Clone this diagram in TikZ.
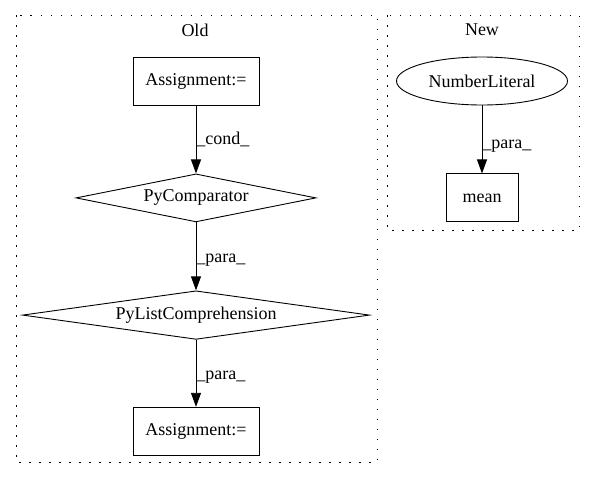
\documentclass[tikz,border=0pt]{standalone}
\usepackage{fontspec}
\setmainfont{Liberation Serif}
\usepackage{tikz}
\usetikzlibrary{positioning}
\usetikzlibrary{shapes.geometric}
\usetikzlibrary{arrows.meta}

\begin{document}
\begin{tikzpicture}[x=1pt, y=-1pt, node distance=68pt,
    font=\fontsize{18}{21}\selectfont, line width=0.9pt,
    every text node part/.style={align=center},
    box/.style={draw, rectangle, minimum width=126pt, minimum height=48pt, inner sep=0pt},
    cmp/.style={draw, diamond, minimum height=48pt, inner sep=0pt, shape aspect=5},
    lit/.style={draw, ellipse, minimum width=171pt, minimum height=48pt, inner sep=0pt},
    edge/.style={-{Triangle[length=14pt, width=10pt]}},
    lbl/.style={right, inner sep=0pt},
    cluster/.style={dash pattern=on 1.5pt off 8.5pt}]
    \useasboundingbox (0,0) rectangle (595,480);

    % old
    \node[box] (assign1) at (196,81) {Assignment:=};
    \node[cmp, minimum width=240pt, below=of assign1] (comparator) {PyComparator};
    \node[cmp, minimum width=347pt, below=of comparator] (listcomp) {PyListComprehension};
    \node[box, below=67pt of listcomp] (assign2) {Assignment:=};

    \draw[edge] (assign1) -- node[lbl] {\_cond\_} (comparator);
    \draw[edge] (comparator) -- node[lbl, pos=0.55] {\_para\_} (listcomp);
    \draw[edge] (listcomp) -- node[lbl, pos=0.55] {\_para\_} (assign2);

    % new
    \node[lit] (number) at (482,81) {NumberLiteral};
    \node[box, minimum width=72pt, below=of number] (mean) {mean};

    \draw[edge] (number) -- node[lbl, pos=0.6] {\_para\_} (mean);

    \draw[cluster] (16,15) rectangle (377,462);
    \node (old label) at (195,30) {Old};

    \draw[cluster] (387,15) rectangle (579,230);
    \node (new label) at (482,30) {New};

\end{tikzpicture}
\end{document}
